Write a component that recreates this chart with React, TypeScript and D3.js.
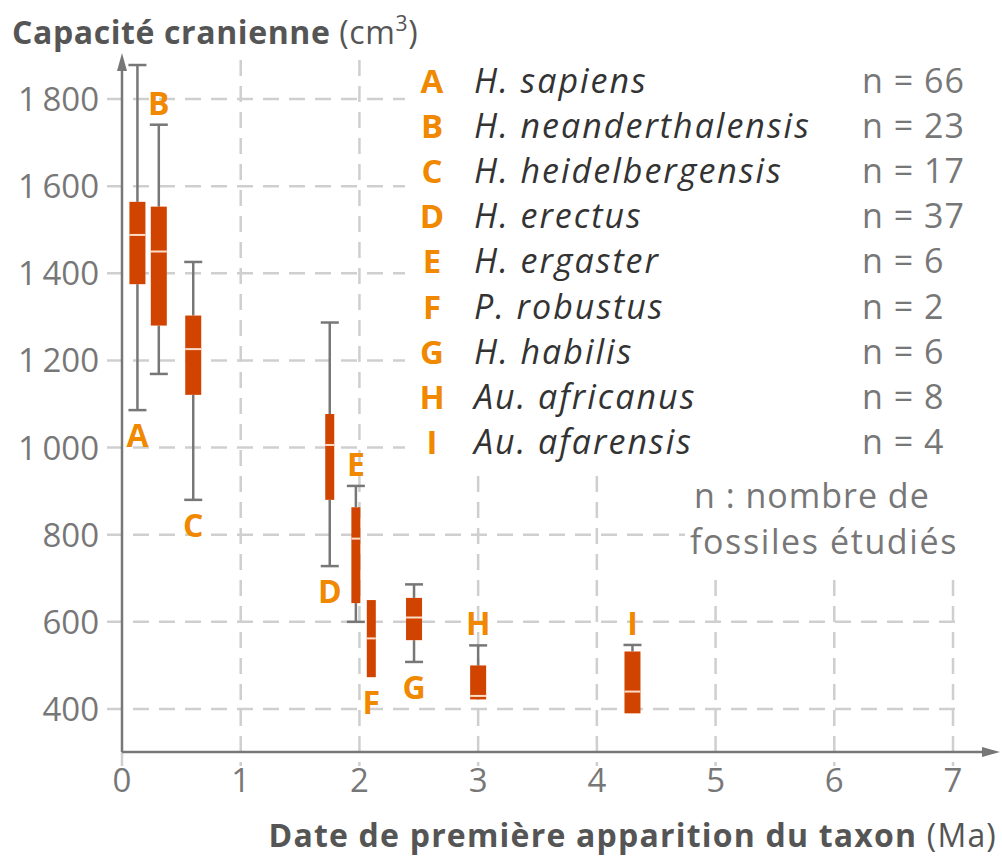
import * as d3 from "d3";

const taxa = ["A", "B", "C", "D", "E", "F", "G", "H", "I"];
const names = [
  "H. sapiens",
  "H. neanderthalensis",
  "H. heidelbergensis",
  "H. erectus",
  "H. ergaster",
  "P. robustus",
  "H. habilis",
  "Au. africanus",
  "Au. afarensis",
];
const counts = [66, 23, 17, 37, 6, 2, 6, 8, 4];
// date of first appearance (Ma)
const dates = [0.13, 0.31, 0.6, 1.75, 1.97, 2.1, 2.46, 3.0, 4.3];
// cranial capacity (cm3)
const whiskerHigh = [1878, 1741, 1426, 1287, 912, null, 686, 546, 547];
const q3 = [1564, 1553, 1303, 1077, 863, 650, 655, 500, 532];
const median = [1488, 1450, 1226, 1006, 791, 562, 610, 430, 440];
const q1 = [1375, 1280, 1121, 880, 643, 473, 558, 422, 390];
const whiskerLow = [1086, 1169, 880, 728, 600, null, 508, null, null];
const labelSide = ["below", "above", "below", "below", "above", "below", "below", "above", "above"];
const narrow = ["D", "E", "F"];

const yTicks = [400, 600, 800, 1000, 1200, 1400, 1600, 1800];
const xTicks = [0, 1, 2, 3, 4, 5, 6, 7];

const width = 1002;
const height = 857;
const font = "'Open Sans', 'Noto Sans', sans-serif";
const gray = "#777";
const grid = "#cfcfcf";
const boxFill = "#d14400";
const orange = "#f08800";

const x = d3.scaleLinear().domain([0, 7]).range([122, 953]);
const y = d3.scaleLinear().domain([400, 1800]).range([709, 99]);

const fmt = (v: number) => (v >= 1000 ? `${Math.floor(v / 1000)}\u2009${String(v % 1000).padStart(3, "0")}` : String(v));

export default function App() {
  const axisY = 752;
  const rows = taxa.map((t, i) => ({
    t,
    i,
    date: dates[i],
    hi: whiskerHigh[i],
    lo: whiskerLow[i],
    q1: q1[i],
    q3: q3[i],
    med: median[i],
  }));

  return (
    <svg
      width={width}
      height={height}
      viewBox={`0 0 ${width} ${height}`}
      style={{ position: "absolute", left: 0, top: 0, background: "#fff" }}
      fontFamily={font}
    >
      {/* grid */}
      <g stroke={grid} strokeWidth={2.5} strokeDasharray="16 10">
        {yTicks.map((v) => (
          <line key={"h" + v} x1={107} x2={962} y1={y(v)} y2={y(v)} />
        ))}
        {xTicks.map((v) => (
          <line key={"v" + v} x1={x(v)} x2={x(v)} y1={v === 0 ? axisY : 60} y2={766} />
        ))}
      </g>

      {/* legend and note backgrounds */}
      <rect x={405} y={55} width={575} height={414} fill="#fff" />
      <rect x={685} y={474} width={292} height={96} fill="#fff" />

      {/* axes */}
      <g stroke={gray} strokeWidth={2.5} fill="none">
        <line x1={x(0)} x2={x(0)} y1={axisY} y2={68} />
        <line x1={x(0)} x2={988} y1={axisY} y2={axisY} />
      </g>
      <path d={`M${x(0)},53 L${x(0) - 5},71 L${x(0) + 5},71 Z`} fill={gray} />
      <path d={`M1000,${axisY} L982,${axisY - 5} L982,${axisY + 5} Z`} fill={gray} />

      {yTicks.map((v) => (
        <text key={"yt" + v} x={99} y={y(v) + 12} textAnchor="end" fontSize={33} fill={gray}>
          {fmt(v)}
        </text>
      ))}
      {xTicks.map((v) => (
        <text key={"xt" + v} x={x(v)} y={792} textAnchor="middle" fontSize={33} fill={gray}>
          {v}
        </text>
      ))}

      {/* box plots */}
      {rows.map((d) => {
        const cx = x(d.date);
        const w = narrow.includes(d.t) ? 9 : 16;
        return (
          <g key={d.t}>
            <g stroke={gray} strokeWidth={2.5}>
              {d.hi !== null && (
                <>
                  <line x1={cx} x2={cx} y1={y(d.hi)} y2={y(d.q3)} />
                  <line x1={cx - 9} x2={cx + 9} y1={y(d.hi)} y2={y(d.hi)} />
                </>
              )}
              {d.lo !== null && (
                <>
                  <line x1={cx} x2={cx} y1={y(d.q1)} y2={y(d.lo)} />
                  <line x1={cx - 9} x2={cx + 9} y1={y(d.lo)} y2={y(d.lo)} />
                </>
              )}
            </g>
            <rect x={cx - w / 2} y={y(d.q3)} width={w} height={y(d.q1) - y(d.q3)} fill={boxFill} />
            <line x1={cx - w / 2} x2={cx + w / 2} y1={y(d.med)} y2={y(d.med)} stroke="#fbdcc6" strokeWidth={2} />
            <text
              x={cx}
              y={
                labelSide[d.i] === "above"
                  ? y(d.hi ?? d.q3) - 10
                  : y(d.lo ?? d.q1) + 37
              }
              textAnchor="middle"
              fontSize={32}
              fontWeight={700}
              fill={orange}
            >
              {d.t}
            </text>
          </g>
        );
      })}

      {/* legend */}
      {rows.map((d) => {
        const by = 93 + d.i * 45.1;
        return (
          <g key={"lg" + d.t}>
            <text x={432} y={by} textAnchor="middle" fontSize={33} fontWeight={700} fill={orange}>
              {d.t}
            </text>
            <text x={474} y={by} fontSize={34} fontStyle="italic" fill="#333" letterSpacing={2}>
              {names[d.i]}
            </text>
            <text x={862} y={by} fontSize={34} fill={gray} letterSpacing={1}>
              {`n = ${counts[d.i]}`}
            </text>
          </g>
        );
      })}

      <text x={694} y={508} fontSize={34} fill={gray} letterSpacing={1}>
        n : nombre de
      </text>
      <text x={690} y={554} fontSize={34} fill={gray} letterSpacing={1.6}>
        fossiles étudiés
      </text>

      {/* axis titles */}
      <text x={12} y={44} fontSize={32} fill="#555" letterSpacing={0.6}>
        <tspan fontWeight={700}>Capacité cranienne</tspan>
        <tspan> (cm</tspan>
        <tspan fontSize={21} dy={-13}>3</tspan>
        <tspan dy={13}>)</tspan>
      </text>
      <text x={997} y={847} fontSize={32} fill="#555" textAnchor="end" letterSpacing={1.2}>
        <tspan fontWeight={700}>Date de première apparition du taxon</tspan>
        <tspan> (Ma)</tspan>
      </text>
    </svg>
  );
}
